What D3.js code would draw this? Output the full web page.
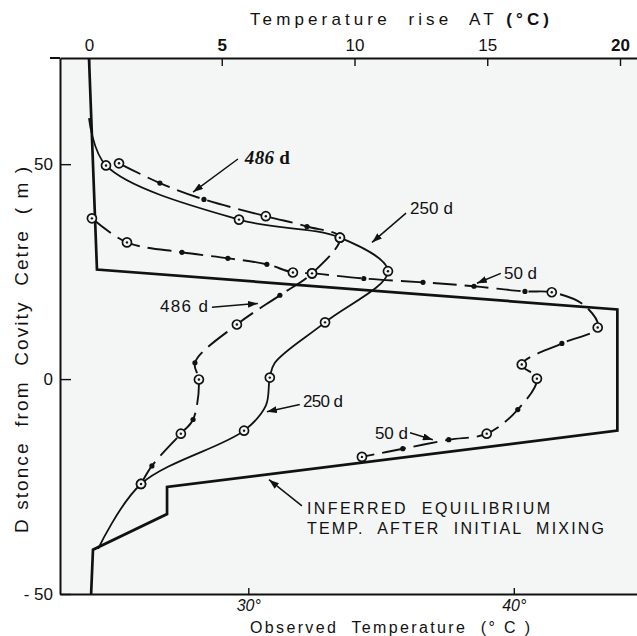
<!DOCTYPE html>
<html>
<head>
<meta charset="utf-8">
<script src="https://cdn.jsdelivr.net/npm/d3@7/dist/d3.min.js"></script>
<style>
  html, body { margin: 0; padding: 0; background: #fff; }
  svg { display: block; }
  text { white-space: pre; }
</style>
</head>
<body>
<div id="chart"></div>
<script>
// Values.
// Profile rows: [temperature rise dT (degC), distance from cavity centre (m), point kind]
// kind: 'o' = ringed observation, '.' = filled dot, '' = curve only
const riseTicks = [0, 5, 10, 15, 20];
const observedTicks = [30, 40];
const distanceTicks = [50, 0, -50];

const equilibrium = [
  [0.0, 74.7], [0.3, 25.5], [19.9, 16.2], [19.9, -12.0],
  [2.94, -25.1], [2.94, -31.4], [0.15, -39.7], [0.08, -50]
];

const profile250d = [
  [0.0, 60.7, ''], [0.64, 49.7, 'o'], [5.65, 37.1, 'o'], [9.45, 32.9, 'o'],
  [11.26, 25.1, 'o'], [8.89, 13.2, 'o'], [7.0, 3.8, ''], [6.81, 0.35, 'o'],
  [6.66, -6.2, ''], [5.84, -12.0, 'o'], [1.96, -24.4, 'o'], [0.34, -39.5, '']
];

const profile486d = [
  [1.13, 50.2, 'o'], [2.67, 45.6, '.'], [4.33, 41.8, '.'], [6.66, 37.9, 'o'],
  [8.21, 35.5, '.'], [9.45, 32.9, 'o'], [8.40, 24.6, 'o'], [7.19, 19.5, '.'],
  [5.57, 12.7, 'o'], [3.99, 3.8, '.'], [4.14, -0.1, 'o'], [3.92, -9.4, '.'],
  [3.46, -12.7, 'o'], [2.37, -20.2, '.'], [1.96, -24.4, 'o']
];

const profile50d = [
  [0.11, 37.4, 'o'], [1.43, 31.8, 'o'], [3.50, 29.5, '.'], [5.23, 28.1, '.'],
  [6.70, 26.7, '.'], [7.68, 24.8, 'o'], [8.40, 24.6, 'o'], [10.35, 23.4, '.'],
  [12.58, 22.5, '.'], [14.50, 21.6, '.'], [16.42, 20.4, '.'], [17.43, 20.2, 'o'],
  [18.67, 17.1, ''], [19.16, 12.0, 'o'], [17.81, 8.3, '.'], [16.30, 3.4, 'o'],
  [16.87, 0.1, 'o'], [16.15, -7.1, '.'], [14.98, -12.7, 'o'], [13.55, -14.1, '.'],
  [11.82, -16.2, '.'], [10.28, -18.1, 'o']
];

// Curve labels: text anchor and arrow (from -> tip), all in data units
const curveLabels = [
  { text: '486 d', at: [5.87, 50.0], from: [5.61, 51.2], tip: [3.92, 43.5], serif: true, len: 45 },
  { text: '250 d', at: [12.09, 38.3], from: [11.94, 38.6], tip: [10.66, 31.8], len: 43 },
  { text: '50 d',  at: [15.63, 23.2], from: [15.51, 24.6], tip: [14.61, 22.3], len: 33 },
  { text: '486 d', at: [2.67, 15.7], from: [4.63, 16.7], tip: [6.36, 17.6], len: 48 },
  { text: '250 d', at: [8.06, -6.6], from: [7.94, -5.9], tip: [6.70, -7.6], len: 40 },
  { text: '50 d',  at: [10.77, -13.9], from: [12.09, -12.5], tip: [12.95, -14.1], len: 33 }
];
const equilibriumNote = ['INFERRED  EQUILIBRIUM', 'TEMP.  AFTER  INITIAL  MIXING'];

(function () {
  'use strict';

  const W = 637, H = 636;
  const margin = { top: 58, right: 0, bottom: 42, left: 60 };
  const INK = '#111';
  const PAPER = '#f4f6f5';
  const SANS = "'Liberation Sans Narrow', 'Liberation Sans', Arial, sans-serif";
  const SERIF = "'Liberation Serif', 'DejaVu Serif', serif";

  // dT scale calibrated on the top ticks; observed temperature = dT + 24
  const x = d3.scaleLinear().domain([-1.092, 20.64]).range([margin.left, W - margin.right]);
  const xObs = d3.scaleLinear().domain([22.908, 44.64]).range(x.range());
  const y = d3.scaleLinear().domain([-50, 74.7]).range([H - margin.bottom, margin.top]);

  const svg = d3.select('#chart').append('svg')
    .attr('width', W).attr('height', H)
    .attr('viewBox', `0 0 ${W} ${H}`);

  const defs = svg.append('defs');
  defs.append('marker')
    .attr('id', 'head')
    .attr('viewBox', '0 0 10 7')
    .attr('refX', 10).attr('refY', 3.5)
    .attr('markerWidth', 10).attr('markerHeight', 7)
    .attr('markerUnits', 'userSpaceOnUse')
    .attr('orient', 'auto')
    .append('path').attr('d', 'M0,0 L10,3.5 L0,7 Z').attr('fill', INK);

  // paper
  svg.append('rect')
    .attr('x', margin.left).attr('y', margin.top)
    .attr('width', W - margin.left - margin.right)
    .attr('height', H - margin.top - margin.bottom)
    .attr('fill', PAPER);

  // ---- axes ----
  function styleAxis(g) {
    g.attr('font-family', SANS).attr('font-size', 17);
    g.select('.domain').attr('stroke', INK).attr('stroke-width', 2);
    g.selectAll('.tick line').attr('stroke', INK).attr('stroke-width', 1.4);
    g.selectAll('.tick text').attr('fill', INK);
  }

  svg.append('g')
    .attr('transform', `translate(0,${margin.top})`)
    .call(d3.axisTop(x).tickValues(riseTicks).tickSizeInner(-8).tickSizeOuter(0).tickPadding(7))
    .call(styleAxis)
    .call(g => g.selectAll('.tick text')
      .attr('font-weight', d => (d === 5 || d === 20) ? 'bold' : 'normal'));
  // the scan's top rule runs a little past the left axis
  svg.append('line')
    .attr('x1', 50).attr('x2', margin.left)
    .attr('y1', margin.top).attr('y2', margin.top)
    .attr('stroke', INK).attr('stroke-width', 2);

  svg.append('g')
    .attr('transform', `translate(0,${H - margin.bottom})`)
    .call(d3.axisBottom(xObs).tickValues(observedTicks).tickSizeInner(-6).tickSizeOuter(0)
      .tickPadding(6).tickFormat(d => d + '°'))
    .call(styleAxis)
    .call(g => g.selectAll('.tick text').attr('font-style', 'italic').attr('font-size', 16));

  svg.append('g')
    .attr('transform', `translate(${margin.left},0)`)
    .call(d3.axisLeft(y).tickValues(distanceTicks).tickSizeInner(-11).tickSizeOuter(0)
      .tickPadding(7).tickFormat(d => d < 0 ? '- ' + Math.abs(d) : String(d)))
    .call(styleAxis);

  // spread a text so its visible run is `target` px long
  function spread(sel, target) {
    const natural = sel.node().getComputedTextLength();
    const n = sel.text().length;
    sel.attr('letter-spacing', Math.max(0, (target - natural) / (n - 1)));
  }

  // axis titles
  const top = svg.append('text')
    .attr('x', 250).attr('y', 25)
    .attr('font-family', SANS).attr('font-size', 17).attr('fill', INK);
  top.append('tspan').text('Temperature  rise  AT ');
  top.append('tspan').attr('font-weight', 'bold').text('(°C)');
  spread(top, 299);

  const bottom = svg.append('text')
    .attr('x', 250).attr('y', 633)
    .attr('font-family', SANS).attr('font-size', 16).attr('fill', INK)
    .text('Observed  Temperature  (° C )');
  spread(bottom, 280);

  const side = svg.append('text')
    .attr('transform', 'translate(27.5,533) rotate(-90)')
    .attr('font-family', SANS).attr('font-size', 19).attr('fill', INK)
    .text('D stonce  from  Covity  Cetre  ( m )');
  spread(side, 366);

  // ---- curves ----
  const plot = svg.append('g');
  const straight = d3.line().x(d => x(d[0])).y(d => y(d[1]));
  const smooth = d3.line().x(d => x(d[0])).y(d => y(d[1]))
    .curve(d3.curveCatmullRom.alpha(0.5));

  plot.append('path')
    .attr('d', straight(equilibrium))
    .attr('fill', 'none').attr('stroke', INK)
    .attr('stroke-width', 2.7).attr('stroke-linejoin', 'miter');

  plot.append('path')
    .attr('d', smooth(profile250d))
    .attr('fill', 'none').attr('stroke', INK).attr('stroke-width', 1.8);

  [profile486d, profile50d].forEach(rows => {
    plot.append('path')
      .attr('d', smooth(rows))
      .attr('fill', 'none').attr('stroke', INK).attr('stroke-width', 1.9)
      .attr('stroke-dasharray', '24,8');
  });

  // point markers
  const points = [].concat(profile250d, profile486d, profile50d);
  plot.selectAll('circle.dot')
    .data(points.filter(d => d[2] === '.'))
    .join('circle')
    .attr('class', 'dot')
    .attr('cx', d => x(d[0])).attr('cy', d => y(d[1]))
    .attr('r', 2.6).attr('fill', INK);

  const rings = plot.selectAll('g.ring')
    .data(points.filter(d => d[2] === 'o'))
    .join('g')
    .attr('class', 'ring')
    .attr('transform', d => `translate(${x(d[0])},${y(d[1])})`);
  rings.append('circle').attr('r', 4.5)
    .attr('fill', PAPER).attr('stroke', INK).attr('stroke-width', 1.7);
  rings.append('circle').attr('r', 1.2).attr('fill', INK);

  // ---- labels and arrows ----
  curveLabels.forEach(l => {
    plot.append('line')
      .attr('x1', x(l.from[0])).attr('y1', y(l.from[1]))
      .attr('x2', x(l.tip[0])).attr('y2', y(l.tip[1]))
      .attr('stroke', INK).attr('stroke-width', 1.5)
      .attr('marker-end', 'url(#head)');
    const t = plot.append('text')
      .attr('x', x(l.at[0])).attr('y', y(l.at[1]))
      .attr('fill', INK)
      .attr('textLength', l.len).attr('lengthAdjust', 'spacing');
    if (l.serif) {
      t.attr('font-family', SERIF).attr('font-size', 19).attr('font-weight', 'bold');
      t.append('tspan').attr('font-style', 'italic').text('486 ');
      t.append('tspan').text('d');
    } else {
      t.attr('font-family', SANS).attr('font-size', 17).text(l.text);
    }
  });

  plot.append('line')
    .attr('x1', x(8.02)).attr('y1', y(-29.5))
    .attr('x2', x(6.78)).attr('y2', y(-23.4))
    .attr('stroke', INK).attr('stroke-width', 1.5)
    .attr('marker-end', 'url(#head)');
  plot.selectAll('text.note')
    .data(equilibriumNote)
    .join('text')
    .attr('class', 'note')
    .attr('x', x(8.21))
    .attr('y', (d, i) => y(-31.4) + i * 20)
    .attr('font-family', SANS).attr('font-size', 16).attr('fill', INK)
    .attr('textLength', (d, i) => i === 0 ? 243 : 297).attr('lengthAdjust', 'spacing')
    .text(d => d);
})();
</script>
</body>
</html>
